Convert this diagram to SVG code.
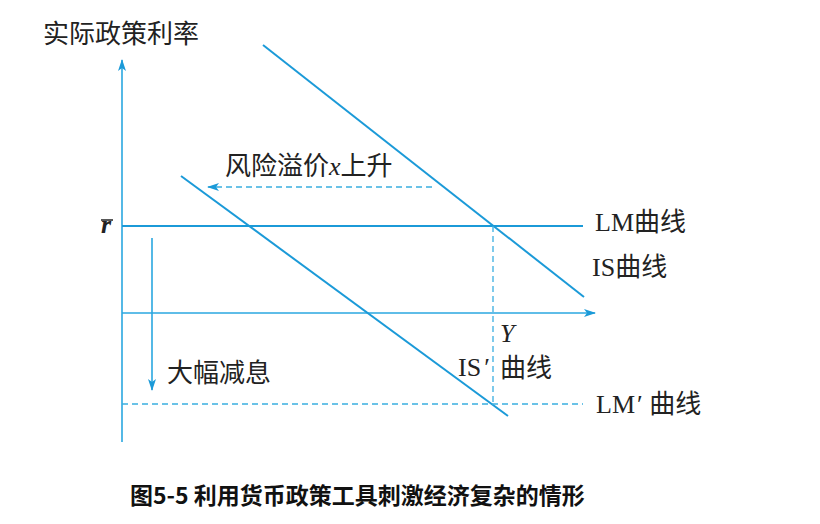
<svg xmlns="http://www.w3.org/2000/svg" width="820" height="524" viewBox="0 0 820 524">
<style>
.ln{stroke:#1b9ad8;fill:none;stroke-width:2}
.ax{stroke:#2aa7e0;fill:none;stroke-width:1.6}
.ds{stroke:#3aaee0;fill:none;stroke-width:1.3;stroke-dasharray:6 4}
.t{font-family:"Liberation Serif","Noto Sans CJK SC",serif;fill:#222;font-size:26px}
.c{font-family:"Noto Sans CJK SC",sans-serif;fill:#222;font-size:26px}
.cap{font-family:"Noto Sans CJK SC",sans-serif;fill:#111;font-size:23px;font-weight:bold}
</style>
<defs>
<marker id="ah" viewBox="0 0 12 8" refX="11" refY="4" markerWidth="12" markerHeight="8" markerUnits="userSpaceOnUse" orient="auto">
<path d="M0,0 L12,4 L0,8 L3,4 Z" fill="#1b9ad8"/>
</marker>
</defs>
<g id="connectors">
<line class="ax" x1="122" y1="442" x2="122" y2="60" marker-end="url(#ah)"/>
<line class="ax" x1="122" y1="313" x2="595" y2="313" marker-end="url(#ah)"/>
<line class="ln" x1="122" y1="226" x2="583" y2="226"/>
<line class="ln" x1="263" y1="45" x2="584" y2="297"/>
<line class="ln" x1="181" y1="176" x2="508" y2="416"/>
<line class="ds" x1="493" y1="226" x2="493" y2="404"/>
<line class="ds" x1="122" y1="404" x2="583" y2="404"/>
<line class="ds" x1="432" y1="187" x2="208" y2="187" marker-end="url(#ah)"/>
<line class="ax" x1="152" y1="238" x2="152" y2="390" marker-end="url(#ah)"/>
</g>
<g id="y-axis-label"><text class="c" x="43" y="43" font-size="26.5">实际政策利率</text></g>
<g id="rbar"><text class="t" x="101" y="233" font-style="italic" font-weight="bold" font-size="24">r</text><line x1="101" y1="220" x2="113" y2="220" stroke="#222" stroke-width="1.5"/></g>
<g id="premium"><text class="c" x="225" y="175">风险溢价<tspan class="t" font-style="italic">x</tspan>上升</text></g>
<g id="lm"><text class="t" x="595" y="231">LM<tspan class="c">曲线</tspan></text></g>
<g id="is"><text class="t" x="592" y="276">IS<tspan class="c">曲线</tspan></text></g>
<g id="y"><text class="t" x="500" y="342" font-style="italic" font-size="23">Y</text></g>
<g id="is2"><text class="t" x="458" y="376">IS<tspan dx="3">′</tspan></text><text class="c" x="500" y="377">曲线</text></g>
<g id="lm2"><text class="t" x="596" y="413">LM<tspan dx="2">′</tspan> <tspan class="c">曲线</tspan></text></g>
<g id="cut"><text class="c" x="167" y="382" font-size="26.5">大幅减息</text></g>
<g id="caption"><text class="cap" x="130" y="504">图5-5 利用货币政策工具刺激经济复杂的情形</text></g>
</svg>
